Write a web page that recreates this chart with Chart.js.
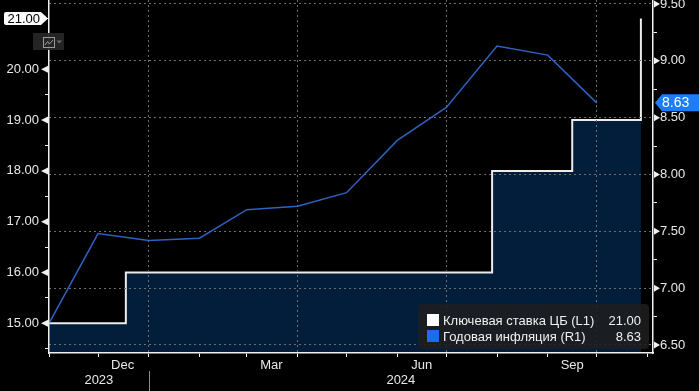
<!DOCTYPE html>
<html>
<head>
<meta charset="utf-8">
<script src="https://cdn.jsdelivr.net/npm/chart.js@4/dist/chart.umd.min.js"></script>
<style>
html,body{margin:0;padding:0;background:#000;}
#wrap{position:relative;width:699px;height:391px;overflow:hidden;}
canvas{display:block;}
#legend{position:absolute;left:418px;top:304px;width:231px;height:45px;box-sizing:border-box;background:rgba(30,30,30,0.88);border-radius:4px;font-family:"Liberation Sans",Arial,sans-serif;font-size:13px;color:#f0f0f0;}
.row{position:absolute;left:9px;right:8px;height:16px;line-height:16px;white-space:nowrap;}
.sw{position:absolute;left:0;top:1px;width:12px;height:12px;}
.lbl{position:absolute;left:16px;top:0;}
.val{position:absolute;right:0;top:0;}
</style>
</head>
<body>
<div id="wrap">
<canvas id="c" width="699" height="391"></canvas>
<div id="legend">
  <div class="row" style="top:9px"><span class="sw" style="background:#ffffff"></span><span class="lbl" id="n1"></span><span class="val" id="v1"></span></div>
  <div class="row" style="top:25px"><span class="sw" style="background:#1a6cf0"></span><span class="lbl" id="n2"></span><span class="val" id="v2"></span></div>
</div>
</div>
<script>
const DAY = 86400000;
function dayNum(s){ const p = s.split('-').map(Number); return Date.UTC(p[0], p[1]-1, p[2]) / DAY; }

// ---- data ----
const seriesNames = ['Ключевая ставка ЦБ (L1)', 'Годовая инфляция (R1)'];
const rateDates = ['2023-11-01','2023-12-18','2024-07-29','2024-09-16','2024-10-28'];
const rateValues = [15.00, 16.00, 18.00, 19.00, 21.00];
const inflationDates = ['2023-11-01','2023-12-01','2024-01-01','2024-02-01','2024-03-01','2024-04-01','2024-05-01','2024-06-01','2024-07-01','2024-08-01','2024-09-01','2024-10-01'];
const inflationValues = [6.69, 7.48, 7.42, 7.44, 7.69, 7.72, 7.84, 8.30, 8.59, 9.13, 9.05, 8.63];
const monthNames = ['Jan','Feb','Mar','Apr','May','Jun','Jul','Aug','Sep','Oct','Nov','Dec'];
const labelMonths = ['Dec','Mar','Jun','Sep'];
const yearLabels = ['2023','2024'];
const leftTicks = [15, 16, 17, 18, 19, 20];
const rightTicks = [6.5, 7, 7.5, 8, 8.5, 9, 9.5];
const xStart = '2023-11-01', xEnd = '2024-11-04';

const FONT = '"Liberation Sans", Arial, sans-serif';
const TXT = '#e8e8e8';
const AXIS = '#f0f0f0';
const GRID = '#6e6e6e';
const NONE = 'rgba(0,0,0,0)';

document.getElementById('n1').textContent = seriesNames[0];
document.getElementById('n2').textContent = seriesNames[1];
document.getElementById('v1').textContent = rateValues[rateValues.length-1].toFixed(2);
document.getElementById('v2').textContent = inflationValues[inflationValues.length-1].toFixed(2);

const inList = (list, v) => list.some(t => Math.abs(t - v) < 1e-6);

const deco = {
  id: 'deco',
  afterDraw(chart){
    const {ctx, chartArea: ca} = chart;
    const x = chart.scales.x, y = chart.scales.y, y1 = chart.scales.y1;
    ctx.save();
    ctx.fillStyle = AXIS;
    leftTicks.forEach(v => {
      const py = y.getPixelForValue(v);
      ctx.beginPath(); ctx.moveTo(ca.left - 1, py - 3.5); ctx.lineTo(ca.left - 1, py + 3.5); ctx.lineTo(ca.left - 8, py); ctx.closePath(); ctx.fill();
    });
    rightTicks.forEach(v => {
      const py = y1.getPixelForValue(v);
      ctx.beginPath(); ctx.moveTo(ca.right + 1, py - 3.5); ctx.lineTo(ca.right + 1, py + 3.5); ctx.lineTo(ca.right + 7, py); ctx.closePath(); ctx.fill();
    });
    const jan = x.getPixelForValue(dayNum('2024-01-01'));
    ctx.fillStyle = TXT; ctx.font = '13px ' + FONT; ctx.textAlign = 'center'; ctx.textBaseline = 'alphabetic';
    ctx.fillText(yearLabels[0], (ca.left + jan) / 2, 384);
    ctx.fillText(yearLabels[1], (jan + ca.right) / 2, 384);
    ctx.strokeStyle = '#8a8a8a'; ctx.lineWidth = 1;
    ctx.beginPath(); ctx.moveTo(Math.round(jan) + 0.5, 371); ctx.lineTo(Math.round(jan) + 0.5, 391); ctx.stroke();
    const rv = rateValues[rateValues.length-1];
    let py = y.getPixelForValue(rv);
    ctx.fillStyle = '#fafafa';
    ctx.beginPath();
    ctx.moveTo(6, py - 6.5); ctx.lineTo(41, py - 6.5); ctx.lineTo(48, py); ctx.lineTo(41, py + 6.5); ctx.lineTo(6, py + 6.5);
    ctx.quadraticCurveTo(4, py + 6.5, 4, py + 4.5); ctx.lineTo(4, py - 4.5); ctx.quadraticCurveTo(4, py - 6.5, 6, py - 6.5);
    ctx.closePath(); ctx.fill();
    ctx.fillStyle = '#000'; ctx.textAlign = 'right'; ctx.textBaseline = 'middle'; ctx.font = '13px ' + FONT;
    ctx.fillText(rv.toFixed(2), 40, py + 0.5);
    const iv = inflationValues[inflationValues.length-1];
    py = y1.getPixelForValue(iv);
    ctx.fillStyle = '#1c7ef6';
    ctx.beginPath();
    ctx.moveTo(655, py); ctx.lineTo(662, py - 8.5); ctx.lineTo(699, py - 8.5); ctx.lineTo(699, py + 8.5); ctx.lineTo(662, py + 8.5); ctx.closePath(); ctx.fill();
    ctx.fillStyle = '#ffffff'; ctx.textAlign = 'left'; ctx.font = '14px ' + FONT;
    ctx.fillText(iv.toFixed(2), 662, py + 0.5);
    ctx.fillStyle = 'rgba(38,38,38,0.95)';
    ctx.fillRect(33, 33, 31, 17);
    ctx.strokeStyle = '#9a9a9a'; ctx.lineWidth = 1;
    ctx.strokeRect(43.5, 37.5, 11, 10);
    ctx.beginPath(); ctx.moveTo(45, 45); ctx.lineTo(47.5, 41.5); ctx.lineTo(49.5, 44); ctx.lineTo(53, 40); ctx.stroke();
    ctx.fillStyle = '#6a6a6a';
    ctx.beginPath(); ctx.moveTo(56.5, 40.5); ctx.lineTo(62, 40.5); ctx.lineTo(59.2, 43.5); ctx.closePath(); ctx.fill();
    ctx.restore();
  }
};

new Chart(document.getElementById('c'), {
  type: 'line',
  data: {
    datasets: [
      {
        label: seriesNames[1],
        data: inflationDates.map((d, i) => ({x: dayNum(d), y: inflationValues[i]})),
        yAxisID: 'y1', borderColor: '#2d62c4', borderWidth: 1.5, pointRadius: 0, fill: false, tension: 0
      },
      {
        label: seriesNames[0],
        data: rateDates.map((d, i) => ({x: dayNum(d), y: rateValues[i]})),
        yAxisID: 'y', stepped: true, borderColor: '#ececec', borderWidth: 2, pointRadius: 0,
        fill: 'start', backgroundColor: '#031e3a'
      }
    ]
  },
  options: {
    responsive: false, animation: false, devicePixelRatio: 1,
    layout: {padding: 0},
    plugins: {legend: {display: false}, tooltip: {enabled: false}},
    scales: {
      x: {
        type: 'linear', min: dayNum(xStart), max: dayNum(xEnd) + 0.4,
        afterBuildTicks: s => {
          const t = [];
          let yy = 2023, m = 10;
          while (true) {
            const v = Date.UTC(yy, m, 1) / DAY;
            if (v > s.max) break;
            if (v >= s.min) t.push({value: v, kind: (m % 3 === 0) ? 'q' : 'm'});
            const mid = Date.UTC(yy, m, 16) / DAY;
            if (mid <= s.max && mid >= s.min && labelMonths.includes(monthNames[m])) t.push({value: mid, kind: 'label', name: monthNames[m]});
            m++; if (m > 11) { m = 0; yy++; }
          }
          t.sort((a, b) => a.value - b.value);
          s.ticks = t;
        },
        afterFit: s => { s.height = 38; s.paddingLeft = 0; s.paddingRight = 0; },
        ticks: {autoSkip: false, maxRotation: 0, minRotation: 0, padding: 1, color: TXT, font: {family: FONT, size: 13},
          callback: (v, i, t) => t[i].name || ''},
        grid: {z: 1, drawOnChartArea: true, lineWidth: 1,
          color: c => (c.tick && c.tick.kind === 'q') ? GRID : NONE,
          drawTicks: true, tickLength: 4, tickWidth: 1,
          tickColor: c => (c.tick && c.tick.kind !== 'label') ? AXIS : NONE},
        border: {display: true, color: AXIS, width: 1.5, dash: [2, 3], z: 2}
      },
      y: {
        type: 'linear', position: 'left', min: 14.415, max: 21.364,
        afterBuildTicks: s => {
          const t = [];
          for (let v = leftTicks[0] - 0.5; v <= leftTicks[leftTicks.length-1] + 1 + 1e-9; v += 0.5) t.push({value: +v.toFixed(2)});
          s.ticks = t;
        },
        afterFit: s => { s.width = 49; s.paddingTop = 0; s.paddingBottom = 0; },
        ticks: {autoSkip: false, padding: 6, color: TXT, font: {family: FONT, size: 13},
          callback: v => inList(leftTicks, v) ? v.toFixed(2) : ''},
        grid: {drawOnChartArea: false, drawTicks: true, tickLength: 4, tickWidth: 1,
          tickColor: c => (c.tick && !inList(leftTicks, c.tick.value)) ? AXIS : NONE},
        border: {display: true, color: AXIS, width: 1.5, z: 2}
      },
      y1: {
        type: 'linear', position: 'right', min: 6.4296, max: 9.535,
        afterBuildTicks: s => {
          const t = [];
          for (let v = rightTicks[0]; v <= rightTicks[rightTicks.length-1] + 1e-9; v += 0.25) t.push({value: +v.toFixed(2)});
          s.ticks = t;
        },
        afterFit: s => { s.width = 46; s.paddingTop = 0; s.paddingBottom = 0; },
        ticks: {autoSkip: false, padding: 3, color: TXT, font: {family: FONT, size: 13},
          callback: v => inList(rightTicks, v) ? v.toFixed(2) : ''},
        grid: {z: 1, drawOnChartArea: true, lineWidth: 1,
          color: c => (c.tick && inList(rightTicks, c.tick.value)) ? GRID : NONE,
          drawTicks: true, tickLength: 4, tickWidth: 1,
          tickColor: c => (c.tick && !inList(rightTicks, c.tick.value)) ? AXIS : NONE},
        border: {display: true, color: AXIS, width: 1.5, dash: [2, 3], z: 2}
      }
    }
  },
  plugins: [deco]
});
</script>
</body>
</html>
